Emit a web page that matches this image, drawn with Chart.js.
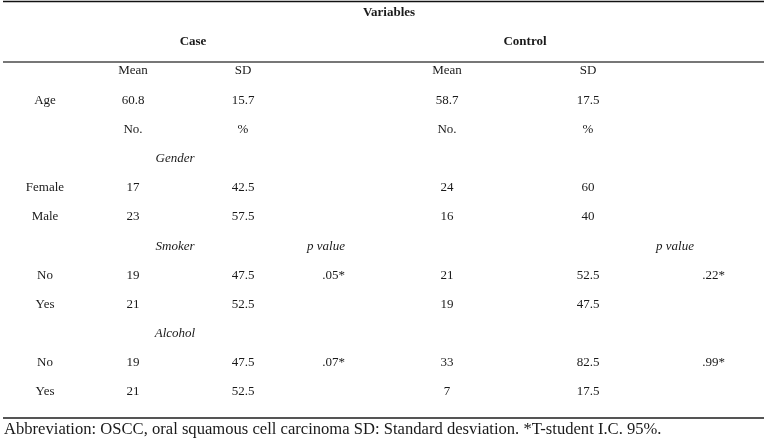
<!DOCTYPE html>
<html>
<head>
<meta charset="utf-8">
<script src="https://cdn.jsdelivr.net/npm/chart.js@4.4.1/dist/chart.umd.min.js"></script>
<style>
  html, body { margin: 0; padding: 0; background: #fff; }
  #wrap { width: 767px; height: 440px; }
</style>
</head>
<body>
<div id="wrap"><canvas id="tbl"></canvas></div>
<script>
const ageCase = ['60.8', '15.7'];
const ageControl = ['58.7', '17.5'];

const genderLabels = ['Female', 'Male'];
const genderCaseNo = [17, 23];
const genderCasePct = [42.5, 57.5];
const genderControlNo = [24, 16];
const genderControlPct = [60, 40];

const smokerLabels = ['No', 'Yes'];
const smokerCaseNo = [19, 21];
const smokerCasePct = [47.5, 52.5];
const smokerControlNo = [21, 19];
const smokerControlPct = [52.5, 47.5];
const smokerP = ['.05*', '.22*']; // case, control

const alcoholLabels = ['No', 'Yes'];
const alcoholCaseNo = [19, 21];
const alcoholCasePct = [47.5, 52.5];
const alcoholControlNo = [33, 7];
const alcoholControlPct = [82.5, 17.5];
const alcoholP = ['.07*', '.99*'];

const footnote = 'Abbreviation: OSCC, oral squamous cell carcinoma SD: Standard desviation. *T-student I.C. 95%.';

// layout: column positions on the x scale (0..767), rows are indices on the y scale
const col = {
  label: 45, caseNo: 133, casePct: 243, caseGroup: 175, caseP: 345, caseHead: 193,
  ctrlNo: 447, ctrlPct: 588, ctrlPHead: 694, ctrlP: 725, ctrlHead: 525, title: 389, note: 4
};
const rules = [
  { y: -2.38, color: '#111', width: 1.5 },
  { y: -0.31, color: '#777', width: 2 },
  { y: 11.89, color: '#555', width: 2 }
];

const center = [], bold = [], italicC = [], italicR = [], right = [], left = [];

bold.push({ x: col.title, y: -2, t: 'Variables' });
bold.push({ x: col.caseHead, y: -1, t: 'Case' });
bold.push({ x: col.ctrlHead, y: -1, t: 'Control' });

center.push({ x: col.caseNo, y: 0, t: 'Mean' }, { x: col.casePct, y: 0, t: 'SD' },
            { x: col.ctrlNo, y: 0, t: 'Mean' }, { x: col.ctrlPct, y: 0, t: 'SD' });
center.push({ x: col.label, y: 1, t: 'Age' },
            { x: col.caseNo, y: 1, t: ageCase[0] }, { x: col.casePct, y: 1, t: ageCase[1] },
            { x: col.ctrlNo, y: 1, t: ageControl[0] }, { x: col.ctrlPct, y: 1, t: ageControl[1] });
center.push({ x: col.caseNo, y: 2, t: 'No.' }, { x: col.casePct, y: 2, t: '%' },
            { x: col.ctrlNo, y: 2, t: 'No.' }, { x: col.ctrlPct, y: 2, t: '%' });

function addGroup(row, name, labels, cNo, cPct, kNo, kPct, pv) {
  italicC.push({ x: col.caseGroup, y: row, t: name });
  labels.forEach((lab, i) => {
    const r = row + 1 + i;
    center.push({ x: col.label, y: r, t: lab },
                { x: col.caseNo, y: r, t: String(cNo[i]) }, { x: col.casePct, y: r, t: String(cPct[i]) },
                { x: col.ctrlNo, y: r, t: String(kNo[i]) }, { x: col.ctrlPct, y: r, t: String(kPct[i]) });
  });
  if (pv) {
    right.push({ x: col.caseP, y: row + 1, t: pv[0] }, { x: col.ctrlP, y: row + 1, t: pv[1] });
  }
}
addGroup(3, 'Gender', genderLabels, genderCaseNo, genderCasePct, genderControlNo, genderControlPct, null);
addGroup(6, 'Smoker', smokerLabels, smokerCaseNo, smokerCasePct, smokerControlNo, smokerControlPct, smokerP);
addGroup(9, 'Alcohol', alcoholLabels, alcoholCaseNo, alcoholCasePct, alcoholControlNo, alcoholControlPct, alcoholP);
italicR.push({ x: col.caseP, y: 6, t: 'p value' }, { x: col.ctrlPHead, y: 6, t: 'p value' });

left.push({ x: col.note, y: 12.3, t: footnote });

const serif = '"Liberation Serif", "Times New Roman", serif';
function textSet(data, font, align) {
  return { data, textStyle: { font: font, align: align, color: '#1a1a1a' }, pointRadius: 0, showLine: false };
}

const datasets = rules.map(r => ({
  data: [{ x: 3, y: r.y }, { x: 764, y: r.y }],
  showLine: true, borderColor: r.color, borderWidth: r.width, pointRadius: 0
}));
datasets.push(
  textSet(center, '13px ' + serif, 'center'),
  textSet(bold, 'bold 13px ' + serif, 'center'),
  textSet(italicC, 'italic 13px ' + serif, 'center'),
  textSet(italicR, 'italic 13px ' + serif, 'right'),
  textSet(right, '13px ' + serif, 'right'),
  textSet(left, '16.6px ' + serif, 'left')
);

const cellText = {
  id: 'cellText',
  afterDatasetsDraw(chart) {
    const ctx = chart.ctx;
    chart.data.datasets.forEach((ds, i) => {
      if (!ds.textStyle) return;
      const meta = chart.getDatasetMeta(i);
      ctx.save();
      ctx.font = ds.textStyle.font;
      ctx.fillStyle = ds.textStyle.color;
      ctx.textAlign = ds.textStyle.align;
      ctx.textBaseline = 'middle';
      meta.data.forEach((pt, j) => ctx.fillText(ds.data[j].t, pt.x, pt.y));
      ctx.restore();
    });
  }
};

new Chart(document.getElementById('tbl'), {
  type: 'scatter',
  data: { datasets },
  plugins: [cellText],
  options: {
    responsive: true,
    maintainAspectRatio: false,
    animation: false,
    layout: { padding: 0 },
    plugins: { legend: { display: false }, tooltip: { enabled: false } },
    scales: {
      x: { type: 'linear', min: 0, max: 767, display: false },
      y: { type: 'linear', min: -2.433, max: 12.645, reverse: true, display: false }
    }
  }
});
</script>
</body>
</html>
